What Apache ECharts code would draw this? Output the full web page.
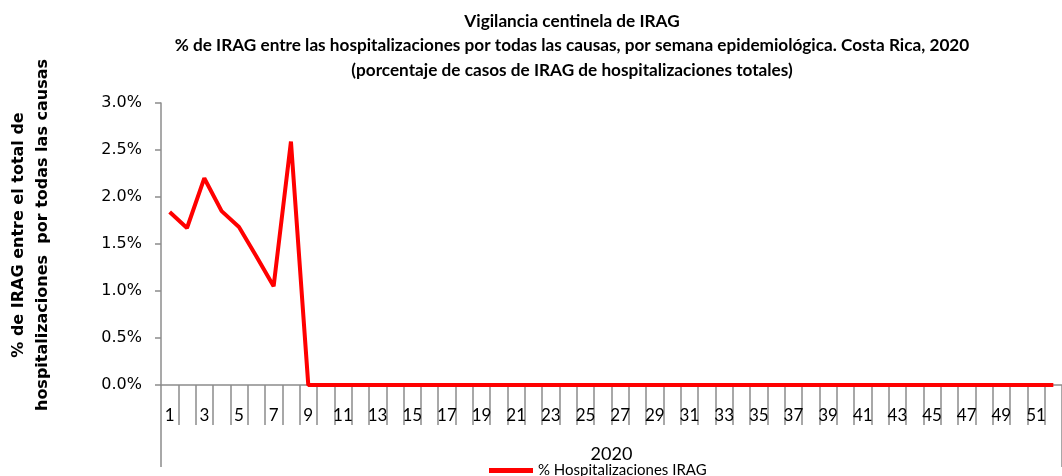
<!DOCTYPE html>
<html>
<head>
  <meta charset="utf-8"/>
  <script src="https://cdn.jsdelivr.net/npm/echarts@6/dist/echarts.min.js"></script>
  <style>body{margin:0;background:#fff;}</style>
</head>
<body>
  <div id="chartmain" style="width:1062px; height:476px;"></div>
  <script type="text/javascript">
    // semanas epidemiologicas 1..52
    var semanas = [];
    for (var i = 1; i <= 52; i++) { semanas.push(String(i)); }
    // % IRAG por semana
    var irag = [1.84, 1.67, 2.20, 1.85, 1.68, 1.37, 1.05, 2.59,
      0, 0, 0, 0, 0, 0, 0, 0, 0, 0, 0, 0, 0, 0, 0, 0, 0, 0,
      0, 0, 0, 0, 0, 0, 0, 0, 0, 0, 0, 0, 0, 0, 0, 0, 0, 0,
      0, 0, 0, 0, 0, 0, 0, 0];
    var anio = ['2020'];

    var gris = '#8c8c8c';
    var fuente = 'Lato';
    var option = {
      animation: false,
      title: {
        text: 'Vigilancia centinela de IRAG\n% de IRAG entre las hospitalizaciones por todas las causas, por semana epidemiológica. Costa Rica, 2020\n(porcentaje de casos de IRAG de hospitalizaciones totales)',
        left: 567,
        textAlign: 'center',
        top: 4,
        textStyle: {
          fontFamily: fuente,
          fontWeight: 'bold',
          fontSize: 17.2,
          lineHeight: 24.5,
          color: '#000'
        }
      },
      legend: {
        bottom: -7,
        left: 484,
        icon: 'rect',
        itemWidth: 44,
        itemHeight: 5,
        itemGap: 4,
        textStyle: { fontFamily: fuente, fontSize: 15, color: '#000' },
        data: ['% Hospitalizaciones IRAG']
      },
      grid: { left: 161, right: 0, top: 103, bottom: 91, outerBoundsMode: 'none' },
      xAxis: [{
        type: 'category',
        data: semanas,
        boundaryGap: true,
        axisLine: { lineStyle: { color: gris, width: 1.5 } },
        axisTick: { show: true, length: 40, interval: 0, lineStyle: { color: gris, width: 1.5 } },
        axisLabel: {
          interval: 1,
          margin: 22,
          fontFamily: fuente,
          fontSize: 17,
          color: '#000'
        }
      }, {
        type: 'category',
        data: anio,
        position: 'bottom',
        boundaryGap: true,
        axisLine: { show: false },
        axisTick: { show: true, length: 82, lineStyle: { color: gris, width: 1.5 } },
        axisLabel: {
          margin: 60,
          fontFamily: fuente,
          fontSize: 18,
          color: '#000'
        }
      }],
      yAxis: {
        type: 'value',
        min: 0,
        max: 3,
        interval: 0.5,
        name: '% de IRAG entre el total de\nhospitalizaciones  por todas las causas',
        nameLocation: 'middle',
        nameGap: 106,
        nameRotate: 90,
        nameTextStyle: {
          fontFamily: 'DejaVu Sans',
          fontWeight: 'bold',
          fontSize: 16,
          lineHeight: 24,
          color: '#000',
          padding: [0, 0, 0, 18]
        },
        axisLine: { show: true, lineStyle: { color: gris, width: 1.5 } },
        axisTick: { show: true, length: 6, lineStyle: { color: gris, width: 1.5 } },
        splitLine: { show: false },
        axisLabel: {
          margin: 19,
          fontFamily: 'DejaVu Sans',
          fontSize: 16,
          color: '#000',
          formatter: function (v) { return v.toFixed(1) + '%'; }
        }
      },
      series: [{
        name: '% Hospitalizaciones IRAG',
        type: 'line',
        xAxisIndex: 0,
        data: irag,
        symbol: 'none',
        lineStyle: { color: '#ff0000', width: 4 },
        itemStyle: { color: '#ff0000' }
      }]
    };
    var myChart = echarts.init(document.getElementById('chartmain'));
    myChart.setOption(option);
  </script>
</body>
</html>
